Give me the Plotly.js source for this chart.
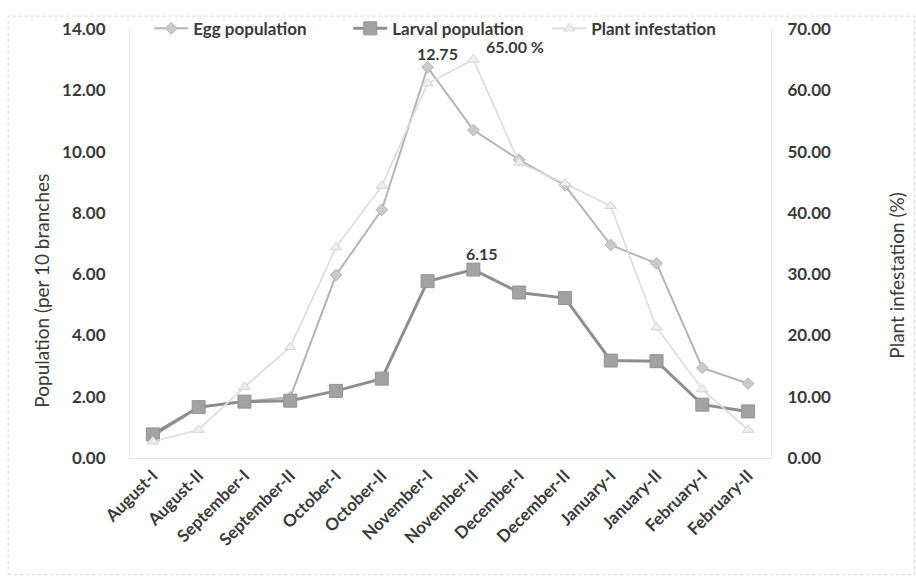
<!DOCTYPE html>
<html>
<head>
<meta charset="utf-8">
<script src="https://cdn.plot.ly/plotly-3.0.1.min.js"></script>
<style>
  html, body { margin: 0; padding: 0; background: #ffffff; }
  #chart { width: 916px; height: 583px; }
</style>
</head>
<body>
<div id="chart"></div>
<script>
// ---- Data ----
const categories = ['August-I', 'August-II', 'September-I', 'September-II', 'October-I', 'October-II',
  'November-I', 'November-II', 'December-I', 'December-II', 'January-I', 'January-II',
  'February-I', 'February-II'];
const eggPopulation = [0.70, 1.65, 1.85, 1.98, 5.97, 8.10, 12.75, 10.70, 9.73, 8.90, 6.95, 6.35, 2.94, 2.43];
const larvalPopulation = [0.77, 1.66, 1.84, 1.87, 2.19, 2.59, 5.77, 6.15, 5.40, 5.22, 3.18, 3.16, 1.74, 1.52];
const plantInfestation = [2.7, 4.6, 11.6, 18.1, 34.4, 44.4, 61.1, 65.0, 48.2, 44.8, 41.1, 21.3, 11.2, 4.6];
const seriesNames = ['Egg population', 'Larval population', 'Plant infestation'];
const leftTitle = 'Population (per 10 branches';
const rightTitle = 'Plant infestation (%)';

const FONT = 'Lato, "Open Sans", "DejaVu Sans", sans-serif';
const TXT = '#3a3a3a';

const traces = [
  {
    x: categories, y: eggPopulation, name: seriesNames[0], type: 'scatter', mode: 'lines+markers',
    line: { color: '#b4b4b4', width: 2 },
    marker: { symbol: 'diamond', size: 9, color: '#cacaca', line: { color: '#b4b4b4', width: 1 } },
    yaxis: 'y'
  },
  {
    x: categories, y: larvalPopulation, name: seriesNames[1], type: 'scatter', mode: 'lines+markers',
    line: { color: '#8e8e8e', width: 3 },
    marker: { symbol: 'square', size: 13, color: '#a2a2a2', line: { color: '#949494', width: 1 } },
    yaxis: 'y'
  },
  {
    x: categories, y: plantInfestation, name: seriesNames[2], type: 'scatter', mode: 'lines+markers',
    line: { color: '#dcdcdc', width: 1.6 },
    marker: { symbol: 'triangle-up', size: 10, color: '#eeeeee', line: { color: '#d4d4d4', width: 1 } },
    yaxis: 'y2'
  }
];

const layout = {
  width: 916, height: 583,
  margin: { l: 130, r: 145, t: 28, b: 125 },
  paper_bgcolor: '#ffffff', plot_bgcolor: '#ffffff',
  font: { family: FONT, color: TXT },
  showlegend: true,
  legend: {
    orientation: 'h', x: 0.03, xanchor: 'left', y: 1.04, yanchor: 'top',
    font: { family: FONT, size: 17, color: TXT, weight: 'bold' },
    bgcolor: 'rgba(0,0,0,0)', itemwidth: 34, entrywidth: 150, entrywidthmode: 'pixels'
  },
  xaxis: {
    type: 'category', range: [-0.5, categories.length - 0.5], showgrid: false, zeroline: false,
    showline: true, linecolor: '#e2e2e2', linewidth: 1,
    tickangle: -45, ticks: '', ticklabelstandoff: 0,
    tickfont: { family: FONT, size: 17, color: TXT, weight: 'bold' }
  },
  yaxis: {
    range: [0, 14], dtick: 2, tickformat: '.2f', showgrid: false, zeroline: false,
    showline: true, linecolor: '#ececec', linewidth: 1, ticks: '', ticklabelstandoff: 20,
    tickfont: { family: FONT, size: 17, color: TXT, weight: 'bold' }
  },
  yaxis2: {
    range: [0, 70], dtick: 10, tickformat: '.2f', overlaying: 'y', side: 'right',
    showgrid: false, zeroline: false, showline: true, linecolor: '#ececec', linewidth: 1,
    ticks: '', ticklabelstandoff: 12,
    tickfont: { family: FONT, size: 17, color: TXT, weight: 'bold' }
  },
  annotations: [
    { x: categories[6], y: eggPopulation[6], xref: 'x', yref: 'y', text: eggPopulation[6].toFixed(2),
      showarrow: false, xshift: 10, yshift: 14, font: { family: FONT, size: 16, color: TXT, weight: 'bold' } },
    { x: categories[7], y: plantInfestation[7], xref: 'x', yref: 'y2', text: plantInfestation[7].toFixed(2) + ' %',
      showarrow: false, xshift: 42, yshift: 13, font: { family: FONT, size: 16, color: TXT, weight: 'bold' } },
    { x: categories[7], y: larvalPopulation[7], xref: 'x', yref: 'y', text: larvalPopulation[7].toFixed(2),
      showarrow: false, xshift: 9, yshift: 16, font: { family: FONT, size: 16, color: TXT, weight: 'bold' } },
    { x: -0.1373, y: 0.39, xref: 'paper', yref: 'paper', xanchor: 'center', yanchor: 'middle',
      text: leftTitle, textangle: -90,
      showarrow: false, font: { family: FONT, size: 19, color: TXT } },
    { x: 1.1966, y: 0.425, xref: 'paper', yref: 'paper', xanchor: 'center', yanchor: 'middle',
      text: rightTitle, textangle: -90,
      showarrow: false, font: { family: FONT, size: 19, color: TXT } }
  ],
  shapes: [
    { type: 'rect', xref: 'paper', yref: 'paper', x0: -0.19, x1: 1.224, y0: -0.272, y1: 1.03,
      line: { color: '#d6d6d6', width: 1, dash: 'dot' }, fillcolor: 'rgba(0,0,0,0)' }
  ]
};

Plotly.newPlot('chart', traces, layout, { displayModeBar: false, staticPlot: true });
</script>
</body>
</html>
